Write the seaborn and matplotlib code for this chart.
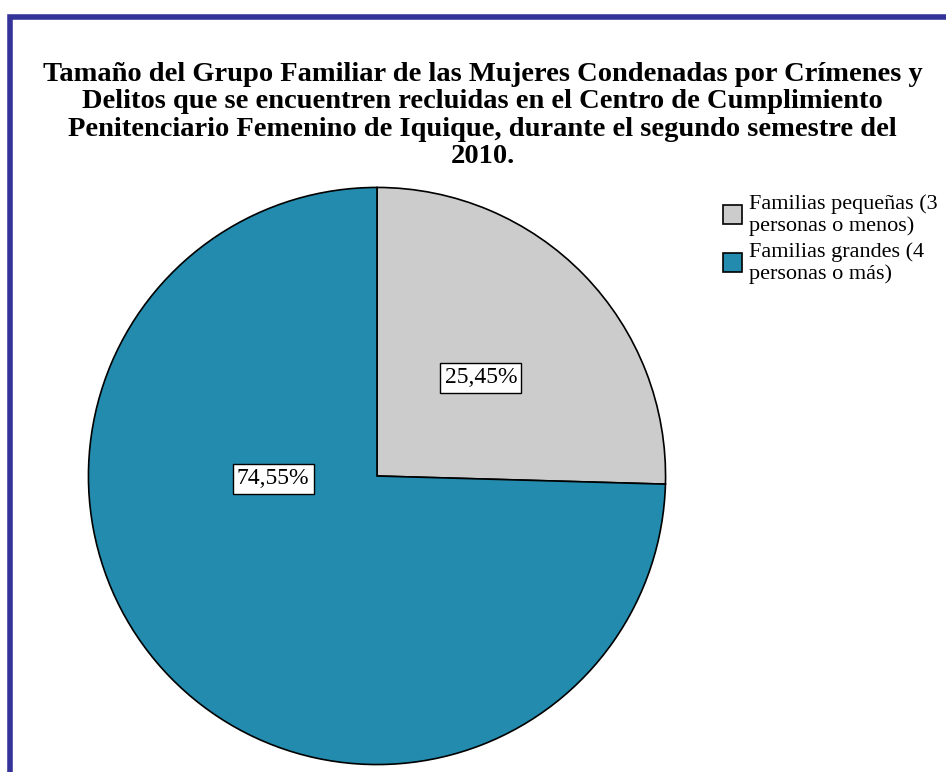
import seaborn as sns
import matplotlib.pyplot as plt
from matplotlib.patches import Rectangle

categorias = ['Familias pequeñas (3\npersonas o menos)', 'Familias grandes (4\npersonas o más)']
porcentajes = [25.45, 74.55]
etiquetas = ['25,45%', '74,55%']
colores = ['#CCCCCC', '#238BAE']

sns.set_theme(style='white')
plt.rcParams['font.family'] = ['Liberation Serif', 'DejaVu Serif']
plt.rcParams['text.color'] = 'black'

fig = plt.figure(figsize=(9.46, 7.72), dpi=100)
ax = fig.add_axes([87 / 946, 6 / 772, 580 / 946, 580 / 772])

wedges, _ = ax.pie(porcentajes, colors=colores, startangle=90, counterclock=False,
                   wedgeprops=dict(edgecolor='black', linewidth=1.2))
ax.set_xlim(-1.005, 1.005)
ax.set_ylim(-1.005, 1.005)
ax.set_aspect('equal')

# etiquetas dentro de cada sector
pos = [(0.36, 0.34), (-0.36, -0.01)]
for (x, y), t in zip(pos, etiquetas):
    ax.text(x, y, t, ha='center', va='center', fontsize=17,
            bbox=dict(boxstyle='square,pad=0.18', facecolor='white', edgecolor='black', linewidth=1))

fig.legend(wedges, categorias, loc='upper left', bbox_to_anchor=(714 / 946, 1 - 185 / 772),
           frameon=False, fontsize=16, handlelength=0.86, handleheight=1.0,
           handletextpad=0.3, labelspacing=0.25, borderaxespad=0)
for h in fig.legends[0].legend_handles:
    h.set_edgecolor('black')

fig.suptitle('Tamaño del Grupo Familiar de las Mujeres Condenadas por Crímenes y\n'
             'Delitos que se encuentren recluidas en el Centro de Cumplimiento\n'
             'Penitenciario Femenino de Iquique, durante el segundo semestre del\n'
             '2010.', fontsize=20.5, fontweight='bold', x=0.51, y=1 - 62 / 772, va='top',
             linespacing=1.12)

# marco
fig.patches.append(Rectangle((9.5 / 946, -0.1), 1.2, 1 - 16.5 / 772 + 0.1, transform=fig.transFigure,
                             fill=False, edgecolor='#333399', linewidth=4))

fig.savefig('out.png', dpi=100)
